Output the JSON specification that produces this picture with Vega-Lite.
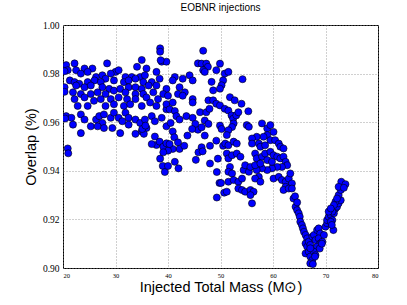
{
"$schema":"https://vega.github.io/schema/vega-lite/v6.json",
"width":315,"height":243,
"autosize":{"type":"none"},
"padding":{"left":63,"top":25,"right":29,"bottom":37},
"background":"white",
"title":{"text":"EOBNR injections","fontSize":10,"fontWeight":"normal","font":"Liberation Sans","color":"black","offset":7},
"data":{"values":[
{"m":20.6,"o":0.9835},{"m":22.2,"o":0.9842},{"m":24.1,"o":0.9821},{"m":25.6,"o":0.9821},{"m":28.4,"o":0.9842},{"m":30.0,"o":0.9807},{"m":30.6,"o":0.9814},{"m":34.1,"o":0.9828},{"m":35.0,"o":0.9856},{"m":35.9,"o":0.9821},{"m":38.8,"o":0.9849},{"m":39.7,"o":0.9849},
{"m":20.9,"o":0.9814},{"m":22.5,"o":0.9814},{"m":23.4,"o":0.98},{"m":24.7,"o":0.9807},{"m":26.3,"o":0.9786},{"m":27.5,"o":0.9793},{"m":28.1,"o":0.9779},{"m":29.1,"o":0.98},{"m":31.9,"o":0.9786},{"m":33.1,"o":0.9786},{"m":34.7,"o":0.9786},{"m":35.6,"o":0.9793},{"m":37.8,"o":0.9807},{"m":38.4,"o":0.9779},
{"m":21.3,"o":0.9772},{"m":22.2,"o":0.9765},{"m":23.1,"o":0.9758},{"m":24.7,"o":0.9765},{"m":26.0,"o":0.9772},{"m":27.2,"o":0.9765},{"m":29.7,"o":0.9772},{"m":31.6,"o":0.9765},{"m":32.5,"o":0.9772},{"m":33.8,"o":0.9779},{"m":35.3,"o":0.9765},{"m":36.9,"o":0.9765},{"m":37.8,"o":0.9751},
{"m":20.3,"o":0.9744},{"m":22.5,"o":0.9751},{"m":24.1,"o":0.9744},{"m":25.3,"o":0.9751},{"m":27.5,"o":0.9744},{"m":28.8,"o":0.9737},{"m":32.5,"o":0.9744},{"m":33.8,"o":0.9744},{"m":35.0,"o":0.9737},{"m":36.3,"o":0.9751},{"m":39.7,"o":0.9737},
{"m":21.9,"o":0.9723},{"m":23.4,"o":0.9716},{"m":25.3,"o":0.9716},{"m":26.6,"o":0.9723},{"m":28.1,"o":0.9716},{"m":29.7,"o":0.973},{"m":30.9,"o":0.9737},{"m":31.9,"o":0.9723},{"m":33.8,"o":0.9716},{"m":35.3,"o":0.9716},{"m":37.2,"o":0.9723},{"m":39.1,"o":0.9716},
{"m":22.2,"o":0.9695},{"m":24.1,"o":0.9702},{"m":25.9,"o":0.9688},{"m":27.2,"o":0.9695},{"m":29.1,"o":0.9695},{"m":30.6,"o":0.9702},{"m":32.2,"o":0.9695},{"m":33.8,"o":0.9695},{"m":35.9,"o":0.9702},{"m":38.1,"o":0.9695},{"m":40.0,"o":0.9709},
{"m":22.8,"o":0.9667},{"m":24.7,"o":0.9667},{"m":28.1,"o":0.9667},{"m":29.7,"o":0.9674},{"m":31.6,"o":0.9667},{"m":32.8,"o":0.9674},{"m":35.0,"o":0.9667},{"m":36.6,"o":0.9681},{"m":37.8,"o":0.9667},
{"m":20.6,"o":0.9625},{"m":21.6,"o":0.9618},{"m":21.9,"o":0.959},{"m":23.4,"o":0.9632},{"m":24.1,"o":0.9611},{"m":25.3,"o":0.9583},{"m":26.3,"o":0.9611},{"m":26.9,"o":0.9625},{"m":27.5,"o":0.9597},{"m":27.8,"o":0.9632},{"m":29.1,"o":0.9618},{"m":29.7,"o":0.9639},{"m":30.6,"o":0.9618},{"m":31.3,"o":0.9604},{"m":31.9,"o":0.9639},{"m":32.5,"o":0.9618},{"m":32.5,"o":0.959},{"m":33.8,"o":0.9611},{"m":34.7,"o":0.9597},{"m":35.6,"o":0.9611},{"m":35.9,"o":0.9576},{"m":36.9,"o":0.9625},{"m":37.5,"o":0.9604},{"m":38.8,"o":0.9618},{"m":39.7,"o":0.9653},
{"m":26.6,"o":0.9583},{"m":27.8,"o":0.9576},{"m":29.4,"o":0.9576},{"m":30.9,"o":0.9555},{"m":35.0,"o":0.9562},{"m":23.4,"o":0.9555},{"m":20.9,"o":0.9492},{"m":21.0,"o":0.9472},{"m":37.5,"o":0.9541},{"m":37.8,"o":0.9506},{"m":38.4,"o":0.952},{"m":39.1,"o":0.9499},{"m":39.7,"o":0.9513},
{"m":38.5,"o":0.9904},{"m":38.5,"o":0.989},{"m":38.6,"o":0.9855},{"m":20.3,"o":0.981},{"m":20.4,"o":0.9615},{"m":20.3,"o":0.9725},{"m":33.8,"o":0.9552},{"m":35.4,"o":0.9552},{"m":35.1,"o":0.9572},{"m":35.7,"o":0.9586},{"m":36.9,"o":0.951},
{"m":45.7,"o":0.9842},{"m":41.3,"o":0.9786},{"m":40.9,"o":0.9772},{"m":42.8,"o":0.9779},{"m":44.1,"o":0.9793},{"m":44.7,"o":0.9772},{"m":42.2,"o":0.9744},{"m":41.9,"o":0.9716},{"m":43.2,"o":0.9723},{"m":42.8,"o":0.9709},{"m":44.7,"o":0.9695},{"m":44.7,"o":0.9681},{"m":39.7,"o":0.9674},{"m":40.9,"o":0.9681},{"m":40.3,"o":0.9653},{"m":41.3,"o":0.9646},{"m":41.6,"o":0.9625},{"m":42.2,"o":0.9611},{"m":43.5,"o":0.9625},{"m":44.7,"o":0.9618},{"m":45.7,"o":0.9569},{"m":39.7,"o":0.9583},{"m":40.5,"o":0.9597},{"m":40.9,"o":0.9562},
{"m":46.7,"o":0.9894},{"m":46.4,"o":0.9841},{"m":47.3,"o":0.9841},{"m":47.6,"o":0.9828},{"m":46.7,"o":0.9814},{"m":47.0,"o":0.9807},{"m":49.2,"o":0.9814},{"m":49.9,"o":0.9841},{"m":50.8,"o":0.98},{"m":51.5,"o":0.9807},{"m":50.5,"o":0.9772},{"m":50.2,"o":0.9752},{"m":49.9,"o":0.9738},{"m":48.3,"o":0.9766},{"m":48.6,"o":0.9731},{"m":54.2,"o":0.9777},
{"m":47.7,"o":0.969},{"m":48.6,"o":0.969},{"m":49.2,"o":0.9676},{"m":49.9,"o":0.9669},{"m":50.8,"o":0.9655},{"m":51.8,"o":0.9703},{"m":52.7,"o":0.969},{"m":54.0,"o":0.9676},{"m":55.3,"o":0.9645},{"m":46.1,"o":0.9641},{"m":47.3,"o":0.9641},{"m":47.9,"o":0.9655},{"m":51.5,"o":0.9648},{"m":52.1,"o":0.9628},{"m":52.4,"o":0.9614},{"m":53.0,"o":0.9628},{"m":53.4,"o":0.9641},
{"m":47.0,"o":0.9607},{"m":47.7,"o":0.9593},{"m":49.9,"o":0.9586},{"m":50.2,"o":0.9572},{"m":46.4,"o":0.9579},{"m":47.0,"o":0.9545},{"m":48.0,"o":0.9503},{"m":49.2,"o":0.9524},{"m":50.5,"o":0.9503},{"m":46.4,"o":0.9497},
{"m":45.8,"o":0.9476},{"m":45.2,"o":0.9593},{"m":41.2,"o":0.9538},{"m":41.9,"o":0.9517},{"m":42.2,"o":0.949},{"m":43.1,"o":0.9503},{"m":40.9,"o":0.949},{"m":40.0,"o":0.9483},{"m":39.1,"o":0.9476},{"m":40.3,"o":0.951},{"m":43.7,"o":0.9545},{"m":44.6,"o":0.9572},
{"m":38.5,"o":0.945},{"m":39.0,"o":0.942},{"m":39.4,"o":0.9395},{"m":40.0,"o":0.942},{"m":41.3,"o":0.9437},{"m":42.0,"o":0.941},{"m":45.3,"o":0.9445},{"m":46.6,"o":0.948},{"m":48.0,"o":0.943},{"m":49.5,"o":0.945},{"m":49.3,"o":0.9395},{"m":49.8,"o":0.935},{"m":50.1,"o":0.935},{"m":49.3,"o":0.929},{"m":50.7,"o":0.931},
{"m":52.5,"o":0.9595},{"m":52.2,"o":0.958},{"m":51.5,"o":0.9567},{"m":51.2,"o":0.9547},{"m":50.9,"o":0.9512},{"m":51.5,"o":0.9505},{"m":52.5,"o":0.952},{"m":53.1,"o":0.9512},{"m":51.2,"o":0.9471},{"m":51.5,"o":0.9451},{"m":52.2,"o":0.9464},{"m":53.1,"o":0.9471},{"m":53.8,"o":0.9458},{"m":51.8,"o":0.9416},{"m":51.5,"o":0.9396},{"m":52.2,"o":0.9389},{"m":51.5,"o":0.9355},{"m":52.5,"o":0.9362},{"m":53.4,"o":0.9355},{"m":54.1,"o":0.9368},{"m":54.4,"o":0.9403},{"m":54.7,"o":0.9423},{"m":55.4,"o":0.9396},{"m":55.7,"o":0.9416},{"m":51.2,"o":0.9314},{"m":53.4,"o":0.9327},{"m":54.1,"o":0.9321},{"m":54.7,"o":0.9314},{"m":55.7,"o":0.9321},{"m":56.3,"o":0.9314},{"m":55.7,"o":0.930},{"m":56.0,"o":0.9266},
{"m":55.0,"o":0.9588},{"m":55.4,"o":0.9581},{"m":57.9,"o":0.9595},{"m":58.9,"o":0.9574},{"m":59.5,"o":0.9588},{"m":60.1,"o":0.956},{"m":58.9,"o":0.9547},{"m":58.2,"o":0.954},{"m":56.9,"o":0.954},{"m":56.0,"o":0.9533},{"m":56.0,"o":0.9512},{"m":57.3,"o":0.9512},{"m":57.6,"o":0.9499},{"m":58.5,"o":0.9505},{"m":59.5,"o":0.9526},{"m":60.4,"o":0.9526},{"m":61.1,"o":0.9512},{"m":61.4,"o":0.9499},{"m":62.0,"o":0.9492},{"m":56.6,"o":0.9471},{"m":56.9,"o":0.9451},{"m":57.9,"o":0.9458},{"m":58.5,"o":0.9471},{"m":59.5,"o":0.9478},{"m":60.1,"o":0.9464},{"m":60.8,"o":0.9458},{"m":61.4,"o":0.9451},{"m":62.0,"o":0.9458},{"m":62.4,"o":0.9437},{"m":62.7,"o":0.9423},{"m":61.7,"o":0.9416},{"m":60.8,"o":0.9416},{"m":59.8,"o":0.941},{"m":58.9,"o":0.9403},{"m":57.9,"o":0.941},{"m":56.9,"o":0.9403},{"m":56.6,"o":0.9423},{"m":57.6,"o":0.943},{"m":58.9,"o":0.9444},{"m":59.8,"o":0.9437},{"m":57.3,"o":0.9375},{"m":56.6,"o":0.9368},{"m":57.6,"o":0.9355},{"m":60.1,"o":0.9368},{"m":61.1,"o":0.9375},{"m":61.7,"o":0.9362},{"m":62.4,"o":0.9355},{"m":63.0,"o":0.9368},{"m":63.3,"o":0.9389},{"m":63.6,"o":0.9348},{"m":62.4,"o":0.9334},{"m":62.0,"o":0.9321},{"m":63.0,"o":0.9327},{"m":63.6,"o":0.9327},{"m":63.9,"o":0.9286},
{"m":64.3,"o":0.9252},{"m":64.6,"o":0.9238},{"m":64.9,"o":0.9225},{"m":65.1,"o":0.9211},{"m":65.2,"o":0.919},{"m":65.5,"o":0.9177},{"m":65.7,"o":0.9163},{"m":65.9,"o":0.9149},{"m":66.2,"o":0.9136},{"m":66.5,"o":0.9122},{"m":66.2,"o":0.9101},{"m":66.5,"o":0.9088},{"m":66.2,"o":0.906},{"m":66.8,"o":0.9067},{"m":67.1,"o":0.9047},{"m":67.5,"o":0.9033},{"m":67.1,"o":0.9019},{"m":67.6,"o":0.9016},
{"m":66.8,"o":0.9108},{"m":67.1,"o":0.9095},{"m":67.5,"o":0.9129},{"m":67.8,"o":0.9136},{"m":68.1,"o":0.9115},{"m":68.4,"o":0.9156},{"m":68.7,"o":0.9163},{"m":69.0,"o":0.9142},{"m":68.7,"o":0.9122},{"m":69.0,"o":0.9101},{"m":69.4,"o":0.9108},{"m":68.4,"o":0.9088},{"m":67.8,"o":0.9067},{"m":67.1,"o":0.9081},{"m":68.1,"o":0.9053},{"m":69.7,"o":0.9136},{"m":70.0,"o":0.917},{"m":70.3,"o":0.9184},{"m":70.3,"o":0.9197},{"m":70.6,"o":0.9211},{"m":71.0,"o":0.9218},{"m":71.3,"o":0.9197},{"m":71.0,"o":0.919},{"m":71.6,"o":0.9238},{"m":71.9,"o":0.9245},{"m":72.2,"o":0.9252},{"m":72.5,"o":0.9266},{"m":72.9,"o":0.9279},{"m":72.5,"o":0.93},{"m":72.9,"o":0.9321},{"m":73.2,"o":0.9341},{"m":73.0,"o":0.9355},{"m":71.6,"o":0.9225},{"m":71.3,"o":0.9232},{"m":70.6,"o":0.9232},{"m":71.9,"o":0.9273},{"m":72.2,"o":0.9286},{"m":72.5,"o":0.9334},{"m":71.6,"o":0.9259},{"m":71.0,"o":0.9245},
{"m":68.0,"o":0.9047},{"m":68.9,"o":0.908},{"m":69.3,"o":0.910},{"m":71.5,"o":0.9156},{"m":71.2,"o":0.9177},{"m":73.8,"o":0.9345},{"m":73.5,"o":0.933},{"m":64.2,"o":0.9295},{"m":64.6,"o":0.927}
]},
"mark":{"type":"circle","size":50,"fill":"#0000ff","stroke":"black","strokeWidth":0.6,"opacity":1,"clip":true},
"encoding":{
"x":{"field":"m","type":"quantitative","scale":{"domain":[20,80],"nice":false,"zero":false},
 "axis":{"values":[20,30,40,50,60,70,80],"format":"d","title":"Injected Total Mass (M⊙)","labelFontSize":6.5,"labelPadding":4.5,"titlePadding":1}},
"y":{"field":"o","type":"quantitative","scale":{"domain":[0.9,1.0],"nice":false,"zero":false},
 "axis":{"values":[0.9,0.92,0.94,0.96,0.98,1.0],"format":".2f","title":"Overlap (%)","labelFontSize":9.5,"labelPadding":4,"titlePadding":4}}
},
"config":{
"view":{"stroke":"black","strokeWidth":1},
"axis":{"ticks":false,"domain":false,"grid":true,"gridColor":"#888888","gridDash":[1,2],"gridWidth":0.8,"gridOpacity":1,
 "labelFont":"Liberation Serif","labelColor":"black","titleFont":"Liberation Sans","titleFontSize":14.5,"titleFontWeight":"normal","titleColor":"black"}
}
}
